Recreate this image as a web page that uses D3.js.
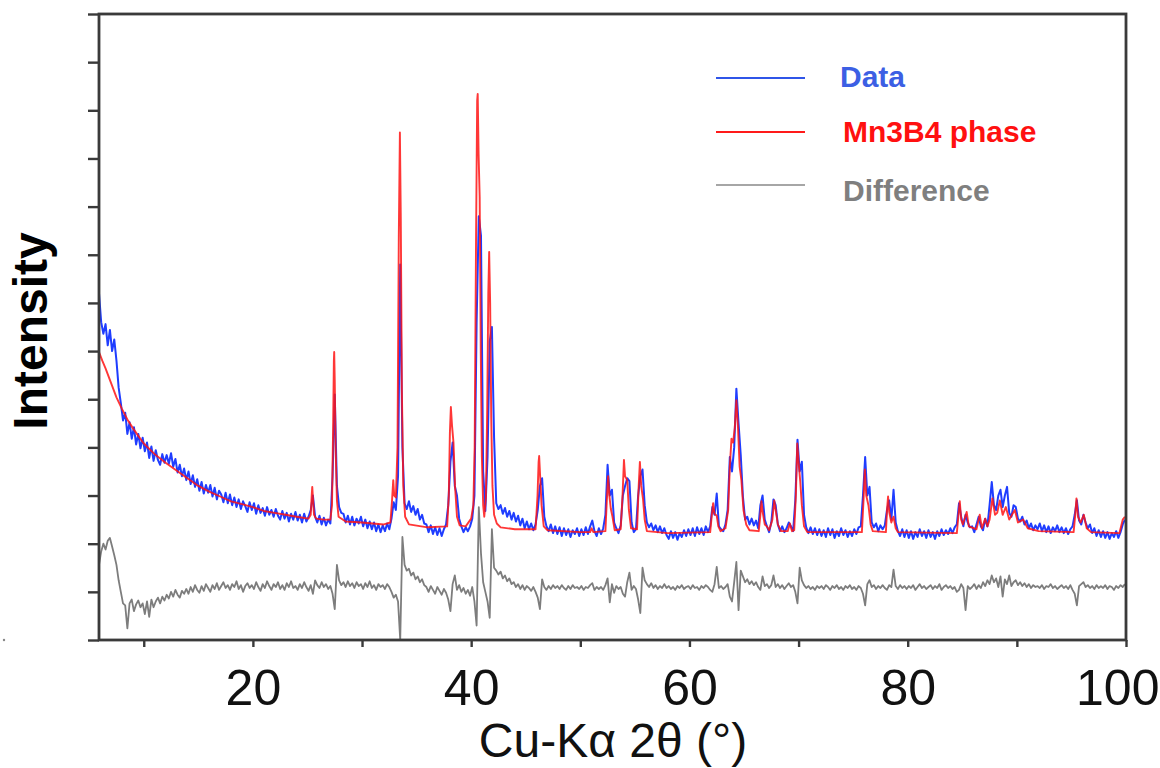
<!DOCTYPE html>
<html>
<head>
<meta charset="utf-8">
<script src="https://cdn.jsdelivr.net/npm/d3@7"></script>
<style>
  html, body { margin: 0; padding: 0; background: #fff; }
  svg { display: block; }
</style>
</head>
<body>
<svg id="chart" width="1160" height="768"></svg>
<script>
// ---------------- DATA ----------------
// 2-theta sampling grid of the measured pattern (degrees)
const thetaStart = 5.9, thetaStep = 0.2, thetaCount = 471;
const theta = d3.range(thetaCount).map(i => +(thetaStart + thetaStep * i).toFixed(1));

const obsIntensity = [
  360,330,318,328,306,322,300,312,290,262,
  246,228,236,214,226,209,221,203,214,199,
  210,196,205,189,201,186,197,187,182,193,
  184,192,183,194,180,188,174,182,170,178,
  166,175,162,171,159,167,155,164,152,161,
  153,161,149,158,146,155,151,143,153,142,
  151,140,148,138,146,136,144,139,133,143,
  135,142,131,140,132,137,129,138,130,135,
  128,136,129,125,134,126,132,123,131,125,
  133,124,130,122,131,123,128,135,150,128,
  122,129,120,127,119,125,121,170,255,160,
  138,132,131,122,129,120,128,119,126,121,
  128,118,125,116,123,115,122,113,120,112,
  119,113,121,115,126,143,135,170,390,200,
  142,136,144,133,139,130,136,125,130,121,
  120,112,119,110,117,109,116,108,115,120,
  140,185,205,160,150,126,118,112,117,113,
  118,126,150,330,440,420,175,134,190,310,
  325,210,142,136,140,131,137,128,134,125,
  132,123,129,119,126,116,123,115,121,114,
  120,135,160,168,128,118,113,120,111,118,
  110,117,108,116,109,115,107,114,110,116,
  108,115,109,117,110,118,124,113,108,116,
  110,116,130,182,150,156,122,116,111,119,
  150,160,168,165,122,112,115,150,170,177,
  140,122,117,121,114,119,112,118,111,116,
  109,105,113,106,112,104,111,107,114,108,
  115,109,116,108,117,110,116,109,118,112,
  118,138,130,152,118,115,113,120,135,190,
  175,200,261,225,192,149,125,128,120,126,
  119,124,116,140,150,125,118,112,122,146,
  140,120,113,118,112,116,122,118,113,145,
  208,175,185,130,117,111,117,110,116,109,
  115,108,114,107,116,109,115,106,113,108,
  116,109,114,107,113,108,115,110,117,118,
  150,190,150,159,122,117,121,113,119,115,
  119,135,145,125,156,122,113,108,115,107,
  114,106,113,105,112,107,115,108,113,106,
  114,107,112,105,113,108,115,109,114,110,
  116,111,117,120,142,128,118,130,122,117,
  118,112,120,128,118,114,126,118,140,164,
  140,135,150,156,138,150,159,132,128,140,
  138,126,123,128,120,124,116,121,114,119,
  115,121,113,119,112,118,111,117,113,119,
  112,117,111,116,110,115,118,130,145,124,
  120,130,122,116,120,111,116,108,114,107,
  113,106,112,105,111,107,113,106,112,120,125
];

// Difference curve (observed - calculated, plotted with its offset)
const diffIntensity = [
  78,92,100,94,103,106,97,88,78,62,
  50,38,36,12,38,42,30,37,41,34,
  38,27,40,24,42,34,40,44,38,45,
  41,47,43,50,45,52,47,44,51,48,
  53,48,55,50,57,52,49,56,51,58,
  54,50,57,53,59,52,56,60,54,57,
  52,58,55,61,53,57,50,56,59,54,
  57,53,60,55,51,58,54,61,56,52,
  58,55,60,53,57,52,59,55,61,54,
  56,52,58,54,60,55,51,57,48,62,
  57,54,60,55,58,53,56,48,32,78,
  62,57,60,55,61,56,59,54,60,56,
  58,53,59,55,61,54,57,52,58,55,
  57,53,58,55,50,44,47,40,0,107,
  78,72,74,67,70,63,66,60,63,57,
  55,50,56,52,48,55,51,47,53,49,
  42,30,58,67,52,57,50,54,48,52,
  46,55,40,15,138,90,60,50,40,23,
  115,75,72,68,71,64,67,61,64,58,
  60,55,58,53,57,52,56,54,51,55,
  50,44,32,63,55,52,56,53,57,54,
  56,53,57,54,52,56,53,57,54,55,
  53,56,52,55,54,57,59,52,55,53,
  55,52,57,64,39,58,49,56,53,55,
  48,45,60,70,52,56,53,42,28,75,
  62,58,55,59,54,57,53,56,54,58,
  54,56,53,55,52,56,54,57,53,55,
  56,53,57,54,55,52,56,54,57,55,
  52,50,58,76,54,56,53,55,58,45,
  40,60,81,31,72,66,60,63,58,61,
  57,60,55,52,66,56,58,54,57,67,
  55,58,54,57,53,56,59,55,57,50,
  38,75,62,57,54,56,53,55,52,56,
  54,56,53,57,55,52,56,54,57,53,
  55,52,56,54,57,53,55,52,56,54,
  48,36,58,62,55,57,53,56,54,57,
  54,52,57,55,73,56,53,57,54,56,
  53,56,54,57,52,55,58,54,56,53,
  55,57,53,56,54,58,52,55,57,54,
  56,53,55,50,52,58,54,31,56,53,
  55,58,53,57,54,60,56,62,58,67,
  60,64,55,66,45,63,58,67,56,60,
  62,57,60,56,59,55,58,54,57,55,
  56,54,57,53,56,55,58,54,56,53,
  55,57,54,56,53,57,52,48,36,56,
  58,60,55,57,54,56,53,57,54,56,
  54,57,53,56,55,52,56,54,57,55,58
];

// Calculated Mn3B4 phase profile (2-theta, intensity)
const calcTheta = [
  5.9,6.2,6.5,7.0,7.5,8.0,8.5,9.0,9.5,10,11,12,13,14,15,16,17,18,19,20,21,22,23,24,25.1,
  25.3,25.4,25.44,25.5,25.6,25.8,26.5,27.1,
  27.25,27.35,27.42,27.45,27.5,27.58,27.7,27.85,28.5,30,32,32.6,
  32.75,32.86,32.95,33.1,33.25,33.37,33.47,33.55,33.65,33.78,33.95,34.3,36,37.8,
  37.95,38.05,38.14,38.25,38.38,38.52,38.7,38.95,39.5,40.0,40.2,
  40.32,40.45,40.55,40.6,40.68,40.78,40.88,40.98,41.1,41.2,41.35,41.47,41.57,41.65,41.74,41.84,41.95,42.1,42.35,42.7,
  44,45.9,46.08,46.18,46.23,46.32,46.45,46.65,47,50,50.9,51.03,51.2,
  52.3,52.43,52.55,52.66,52.8,52.95,53.15,53.7,53.87,54.0,54.1,54.3,54.45,54.65,
  55.2,55.35,55.46,55.58,55.75,55.9,56.1,58,61.9,
  62.05,62.17,62.3,62.5,62.65,62.85,63.3,
  63.55,63.7,63.85,64.0,64.15,64.3,64.45,64.6,64.76,64.95,65.2,65.5,
  66.35,66.5,66.6,66.72,66.9,67.1,67.3,67.6,67.77,67.9,68.1,68.4,
  69.0,69.2,69.4,69.6,69.75,69.88,70.0,70.15,70.3,70.5,70.8,
  75.8,75.95,76.07,76.2,76.4,76.6,76.8,
  78.0,78.12,78.2,78.3,78.5,78.7,78.9,79.1,
  84.5,84.65,84.77,84.9,85.05,85.4,85.6,86.3,86.6,86.8,87.1,87.3,87.5,87.76,88.0,88.2,88.44,88.7,88.99,89.3,89.81,90.1,90.58,91,92,
  95.2,95.35,95.46,95.6,95.85,96.13,96.4,96.8,99.4,99.7,99.9
];
const calcIntensity = [
  299,290,282,267,252,240,229,220,212,204,193,184,176,168,160,154,149,144,141,138,134,132,130,128,126,
  130,152,159,148,130,126,125,125,
  140,220,290,299,270,200,145,128,123,122,120,122,
  145,166,150,148,200,420,527,440,260,160,128,120,117,118,
  150,215,242,222,205,160,128,119,118,126,140,
  200,420,560,567,505,460,300,190,140,128,148,240,360,403,350,230,160,130,121,117,
  115,115,150,185,191,170,140,118,114,112,112,116,112,
  113,145,170,150,136,128,114,115,150,187,170,166,135,116,
  115,160,185,160,146,125,113,111,112,
  130,142,131,129,118,113,116,
  135,180,209,205,220,249,220,180,166,135,120,114,
  113,130,144,132,120,118,114,125,145,135,120,113,
  113,121,113,114,150,204,185,165,140,118,112,
  112,145,177,150,140,120,113,
  112,138,149,133,122,128,116,112,
  111,130,144,125,120,133,118,115,130,116,126,118,125,147,130,132,145,130,138,125,135,122,125,116,113,
  112,130,147,128,122,130,116,112,111,125,128
];

// Axis ticks and legend entries
const xTickValues = [10,20,30,40,50,60,70,80,90,100];
const xTickLabels = [20,40,60,80,100];
const yTickValues = d3.range(0, 651, 50);
const legendLabels = ["Data", "Mn3B4 phase", "Difference"];
const legendColors = ["#2f55e8", "#ff1a1a", "#a6a6a6"];
const legendTextColors = ["#3c5fe4", "#ff1010", "#7f7f7f"];

// ---------------- DRAW ----------------
const svg = d3.select("#chart");
svg.append("rect").attr("width", 1160).attr("height", 768).attr("fill", "#fff");

const plot = { left: 99, right: 1126, top: 14, bottom: 640 };
const x = d3.scaleLinear().domain([5.9, 100]).range([plot.left, plot.right]);
const y = d3.scaleLinear().domain([0, 650]).range([plot.bottom, plot.top]);

const obs = theta.map((t, i) => [t, obsIntensity[i]]);
const diff = theta.map((t, i) => [t, diffIntensity[i]]);
const calc = calcTheta.map((t, i) => [t, calcIntensity[i]]);

const line = d3.line().x(d => x(d[0])).y(d => y(d[1]));

svg.append("path").datum(obs).attr("d", line)
  .attr("fill", "none").attr("stroke", "#1f3dff").attr("stroke-width", 2.0)
  .attr("stroke-linejoin", "round");
svg.append("path").datum(calc).attr("d", line)
  .attr("fill", "none").attr("stroke", "#ff1414").attr("stroke-width", 1.9)
  .attr("stroke-opacity", 0.85).attr("stroke-linejoin", "round");
svg.append("path").datum(diff).attr("d", line)
  .attr("fill", "none").attr("stroke", "#7d7d7d").attr("stroke-width", 1.8)
  .attr("stroke-linejoin", "round");

// axes
const axisColor = "#3a3a3a";
const xAxis = svg.append("g").attr("transform", `translate(0,${plot.bottom})`)
  .call(d3.axisBottom(x).tickValues(xTickValues).tickSize(7)
    .tickFormat(d => xTickLabels.includes(d) ? d : ""));
xAxis.select(".domain").remove();
xAxis.selectAll("line").attr("stroke", axisColor).attr("stroke-width", 2.4);
xAxis.selectAll("text").attr("y", 65).attr("dy", 0)
  .attr("font-family", "'Liberation Sans', Arial, Helvetica, sans-serif")
  .attr("font-size", 50).attr("fill", "#111");
// the last label sits at the page edge: keep it fully inside the page
xAxis.selectAll(".tick").filter(d => d === 100).select("text")
  .attr("text-anchor", "end").attr("x", 1159 - x(100));

const yAxis = svg.append("g").attr("transform", `translate(${plot.left},0)`)
  .call(d3.axisLeft(y).tickValues(yTickValues).tickSize(11).tickFormat(""));
yAxis.select(".domain").remove();
yAxis.selectAll("line").attr("stroke", axisColor).attr("stroke-width", 2.4);

// frame
svg.append("rect")
  .attr("x", plot.left).attr("y", plot.top)
  .attr("width", plot.right - plot.left).attr("height", plot.bottom - plot.top)
  .attr("fill", "none").attr("stroke", axisColor).attr("stroke-width", 2.8);

// axis titles
svg.append("text")
  .attr("transform", "translate(47,331) rotate(-90)")
  .attr("text-anchor", "middle")
  .attr("font-family", "'Liberation Sans', Arial, Helvetica, sans-serif")
  .attr("font-weight", "bold").attr("font-size", 48).attr("fill", "#000")
  .text("Intensity");
svg.append("text")
  .attr("x", 613).attr("y", 757).attr("text-anchor", "middle")
  .attr("font-family", "'Liberation Sans', Arial, Helvetica, sans-serif")
  .attr("font-size", 48).attr("fill", "#111")
  .text("Cu-K\u03b1 2\u03b8 (\u00b0)");

// legend
const legend = svg.append("g");
const legendY = [78, 132, 185];
const legendTextY = [87, 142, 201];
const legendTextX = [840, 843, 843];
legendLabels.forEach((lab, i) => {
  legend.append("line").attr("x1", 716).attr("x2", 805)
    .attr("y1", legendY[i]).attr("y2", legendY[i])
    .attr("stroke", legendColors[i]).attr("stroke-width", 1.8);
  legend.append("text").attr("x", legendTextX[i]).attr("y", legendTextY[i])
    .attr("font-family", "'Liberation Sans', Arial, Helvetica, sans-serif")
    .attr("font-weight", "bold").attr("font-size", 30)
    .attr("fill", legendTextColors[i]).text(lab);
});

// small scan artifact at the page edge
svg.append("circle").attr("cx", 4).attr("cy", 640).attr("r", 1.2).attr("fill", "#888");
</script>
</body>
</html>
